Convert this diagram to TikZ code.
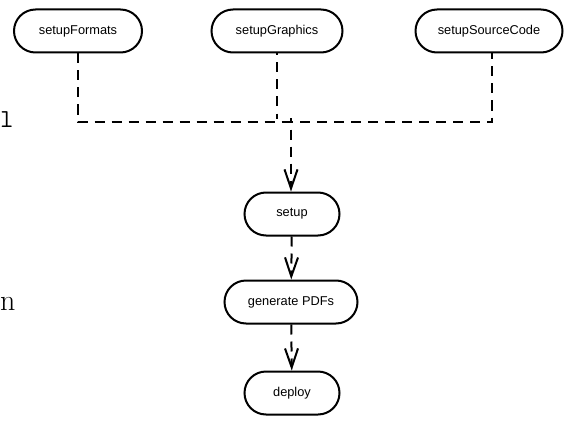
\documentclass[tikz,border=0pt]{standalone}
\usepackage{fontspec}
\setmainfont{Latin Modern Roman}
\newfontfamily\boxfont{Liberation Sans}
\usetikzlibrary{arrows.meta,shapes.misc}
\tikzset{
  flowbox/.style={draw, rounded rectangle, line width=2pt, minimum height=43pt, inner sep=0pt, font=\boxfont\fontsize{12.8}{14}\selectfont},
  conn/.style={line width=2pt, dash pattern=on 10pt off 7pt},
  tip/.style={-{Straight Barb[length=19pt,width=13pt,line width=2pt]}},
}
\begin{document}
\begin{tikzpicture}[x=1pt,y=-1pt]
\useasboundingbox (0,0) rectangle (564,441);
\node[flowbox, minimum width=128pt] (fmt) at (78,31) {setupFormats};
\node[flowbox, minimum width=131pt] (gfx) at (277,31) {setupGraphics};
\node[flowbox, minimum width=147pt] (src) at (489,31) {setupSourceCode};
\node[flowbox, minimum width=95pt] (setup) at (292,214) {setup};
\node[flowbox, minimum width=133pt] (gen) at (291,302) {generate PDFs};
\node[flowbox, minimum width=95pt] (dep) at (292,393) {deploy};
\coordinate (j) at (291,122);
\coordinate (jg) at (277,119);
\coordinate (jr) at (291,122);
\draw[conn, tip] (fmt.south) |- (j) -- (j |- setup.north);
\draw[conn, dash phase=8pt] (gfx.south) -- (jg);
\draw[conn, dash phase=4pt] (src.south -| 492,0) |- (jr) -- ++(0,-4);
\draw[conn, tip] (setup) -- (gen);
\draw[conn, tip] (gen) -- (dep);
\node[anchor=base west, inner sep=0pt, font=\ttfamily\fontsize{26}{28}\selectfont] (l) at (0,128) {l};
\node[anchor=base west, inner sep=0pt, font=\fontsize{30}{32}\selectfont] (n) at (0,310) {n};
\end{tikzpicture}
\end{document}
